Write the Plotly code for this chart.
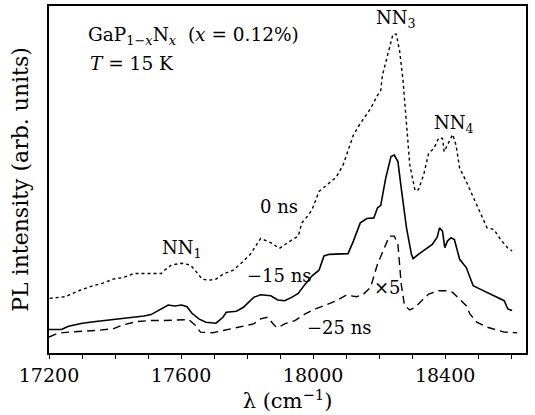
import plotly.graph_objects as go

# 0 ns (dotted)
x0 = [17202, 17249, 17290, 17332, 17363, 17394, 17425, 17457, 17498, 17540, 17550, 17571, 17602, 17628,
      17644, 17664, 17685, 17706, 17727, 17758, 17779, 17810, 17841, 17872, 17898, 17914, 17935, 17955,
      17966, 17987, 17997, 18018, 18049, 18070, 18091, 18122, 18143, 18174, 18195, 18205, 18210, 18226,
      18242, 18252, 18262, 18272, 18283, 18293, 18309, 18319, 18335, 18350, 18366, 18381, 18392, 18397,
      18407, 18423, 18433, 18444, 18464, 18485, 18506, 18527, 18548, 18568, 18589, 18603]
y0 = [165, 170, 188, 203, 211, 223, 228, 240, 240, 240, 250, 266, 271, 266,
      248, 223, 220, 223, 238, 250, 268, 298, 346, 333, 316, 328, 341, 353,
      393, 418, 433, 488, 513, 531, 568, 658, 693, 738, 778, 793, 838, 898,
      963, 963, 913, 828, 678, 568, 490, 493, 538, 603, 618, 650, 648, 608,
      628, 660, 628, 558, 518, 473, 428, 378, 373, 343, 318, 308]

# -15 ns (solid)
x15 = [17200, 17238, 17259, 17301, 17342, 17384, 17415, 17446, 17488, 17509, 17540, 17561, 17581, 17602,
       17618, 17633, 17654, 17675, 17706, 17727, 17737, 17768, 17789, 17820, 17841, 17872, 17893, 17914,
       17935, 17955, 17976, 17997, 18018, 18033, 18049, 18080, 18106, 18122, 18143, 18163, 18184, 18195,
       18205, 18220, 18236, 18246, 18257, 18267, 18283, 18298, 18303, 18319, 18340, 18361, 18376, 18383,
       18392, 18399, 18407, 18418, 18428, 18444, 18464, 18485, 18506, 18537, 18558, 18579, 18590, 18603]
y15 = [71, 71, 81, 90, 95, 100, 103, 106, 112, 116, 132, 145, 142, 145,
       140, 120, 103, 93, 90, 108, 123, 126, 138, 168, 176, 173, 160, 158,
       168, 180, 208, 233, 250, 293, 298, 300, 300, 338, 393, 406, 408, 438,
       446, 528, 593, 598, 578, 498, 378, 298, 285, 298, 313, 328, 350, 378,
       368, 318, 338, 348, 343, 283, 258, 203, 193, 178, 170, 158, 133, 128]

# -25 ns x5 (dashed)
x25 = [17200, 17228, 17259, 17301, 17342, 17394, 17425, 17467, 17509, 17550, 17592, 17623, 17644, 17659,
       17696, 17727, 17779, 17820, 17841, 17862, 17883, 17893, 17914, 17945, 17976, 18007, 18039, 18070,
       18101, 18132, 18153, 18174, 18195, 18215, 18231, 18246, 18257, 18267, 18277, 18293, 18309, 18329,
       18350, 18381, 18402, 18423, 18444, 18464, 18475, 18496, 18527, 18558, 18579, 18618]
y25 = [48, 60, 63, 65, 68, 73, 85, 95, 98, 98, 101, 101, 83, 63,
       61, 68, 78, 88, 103, 108, 83, 76, 88, 98, 118, 133, 145, 158,
       175, 170, 178, 198, 268, 318, 353, 353, 328, 208, 143, 130, 138, 158,
       178, 188, 188, 183, 163, 143, 118, 93, 78, 68, 63, 61]

FONT = "DejaVu Serif, Liberation Serif, serif"

fig = go.Figure()
fig.add_trace(go.Scatter(x=x0, y=y0, mode="lines", line=dict(color="black", width=1.4, dash="dot")))
fig.add_trace(go.Scatter(x=x15, y=y15, mode="lines", line=dict(color="black", width=1.6)))
fig.add_trace(go.Scatter(x=x25, y=y25, mode="lines", line=dict(color="black", width=1.4, dash="8px,5px")))

annots = [
    (17313, 958, "GaP<sub>1−<i>x</i></sub>N<sub><i>x</i></sub>  (<i>x</i> = 0.12%)", "left", 18.5),
    (17318, 873, "<i>T</i> = 15 K", "left", 18.5),
    (18252, 1008, "NN<sub>3</sub>", "center", 18),
    (18428, 693, "NN<sub>4</sub>", "center", 18),
    (17898, 443, "0 ns", "center", 18),
    (17602, 313, "NN<sub>1</sub>", "center", 18),
    (17898, 233, "−15 ns", "center", 18),
    (18225, 198, "×5", "center", 18),
    (18080, 78, "−25 ns", "center", 18),
]
for ax, ay, txt, anc, sz in annots:
    fig.add_annotation(x=ax, y=ay, text=txt, showarrow=False, xanchor=anc, yanchor="middle",
                       font=dict(family=FONT, size=sz, color="black"))

fig.update_layout(
    width=535, height=415,
    margin=dict(l=49, r=9, t=4, b=62),
    paper_bgcolor="white", plot_bgcolor="white",
    showlegend=False,
    font=dict(family=FONT, size=18, color="black"),
    xaxis=dict(range=[17200, 18645], tick0=17200, dtick=400, tickformat="d",
               ticks="outside", ticklen=4, tickwidth=1.2, tickcolor="black",
               minor=dict(dtick=100, tick0=17200, ticks="outside", ticklen=4, tickwidth=1.2, tickcolor="black"),
               showline=True, linecolor="black", linewidth=1.5, mirror=True,
               showgrid=False, zeroline=False,
               title=dict(text="λ (cm<sup>−1</sup>)", font=dict(size=21), standoff=3),
               tickfont=dict(size=19)),
    yaxis=dict(range=[0, 1048], showticklabels=False, ticks="",
               showline=True, linecolor="black", linewidth=1.5, mirror=True,
               showgrid=False, zeroline=False,
               title=dict(text="PL intensity (arb. units)", font=dict(size=22), standoff=13)),
)

fig.write_html("out.html")
